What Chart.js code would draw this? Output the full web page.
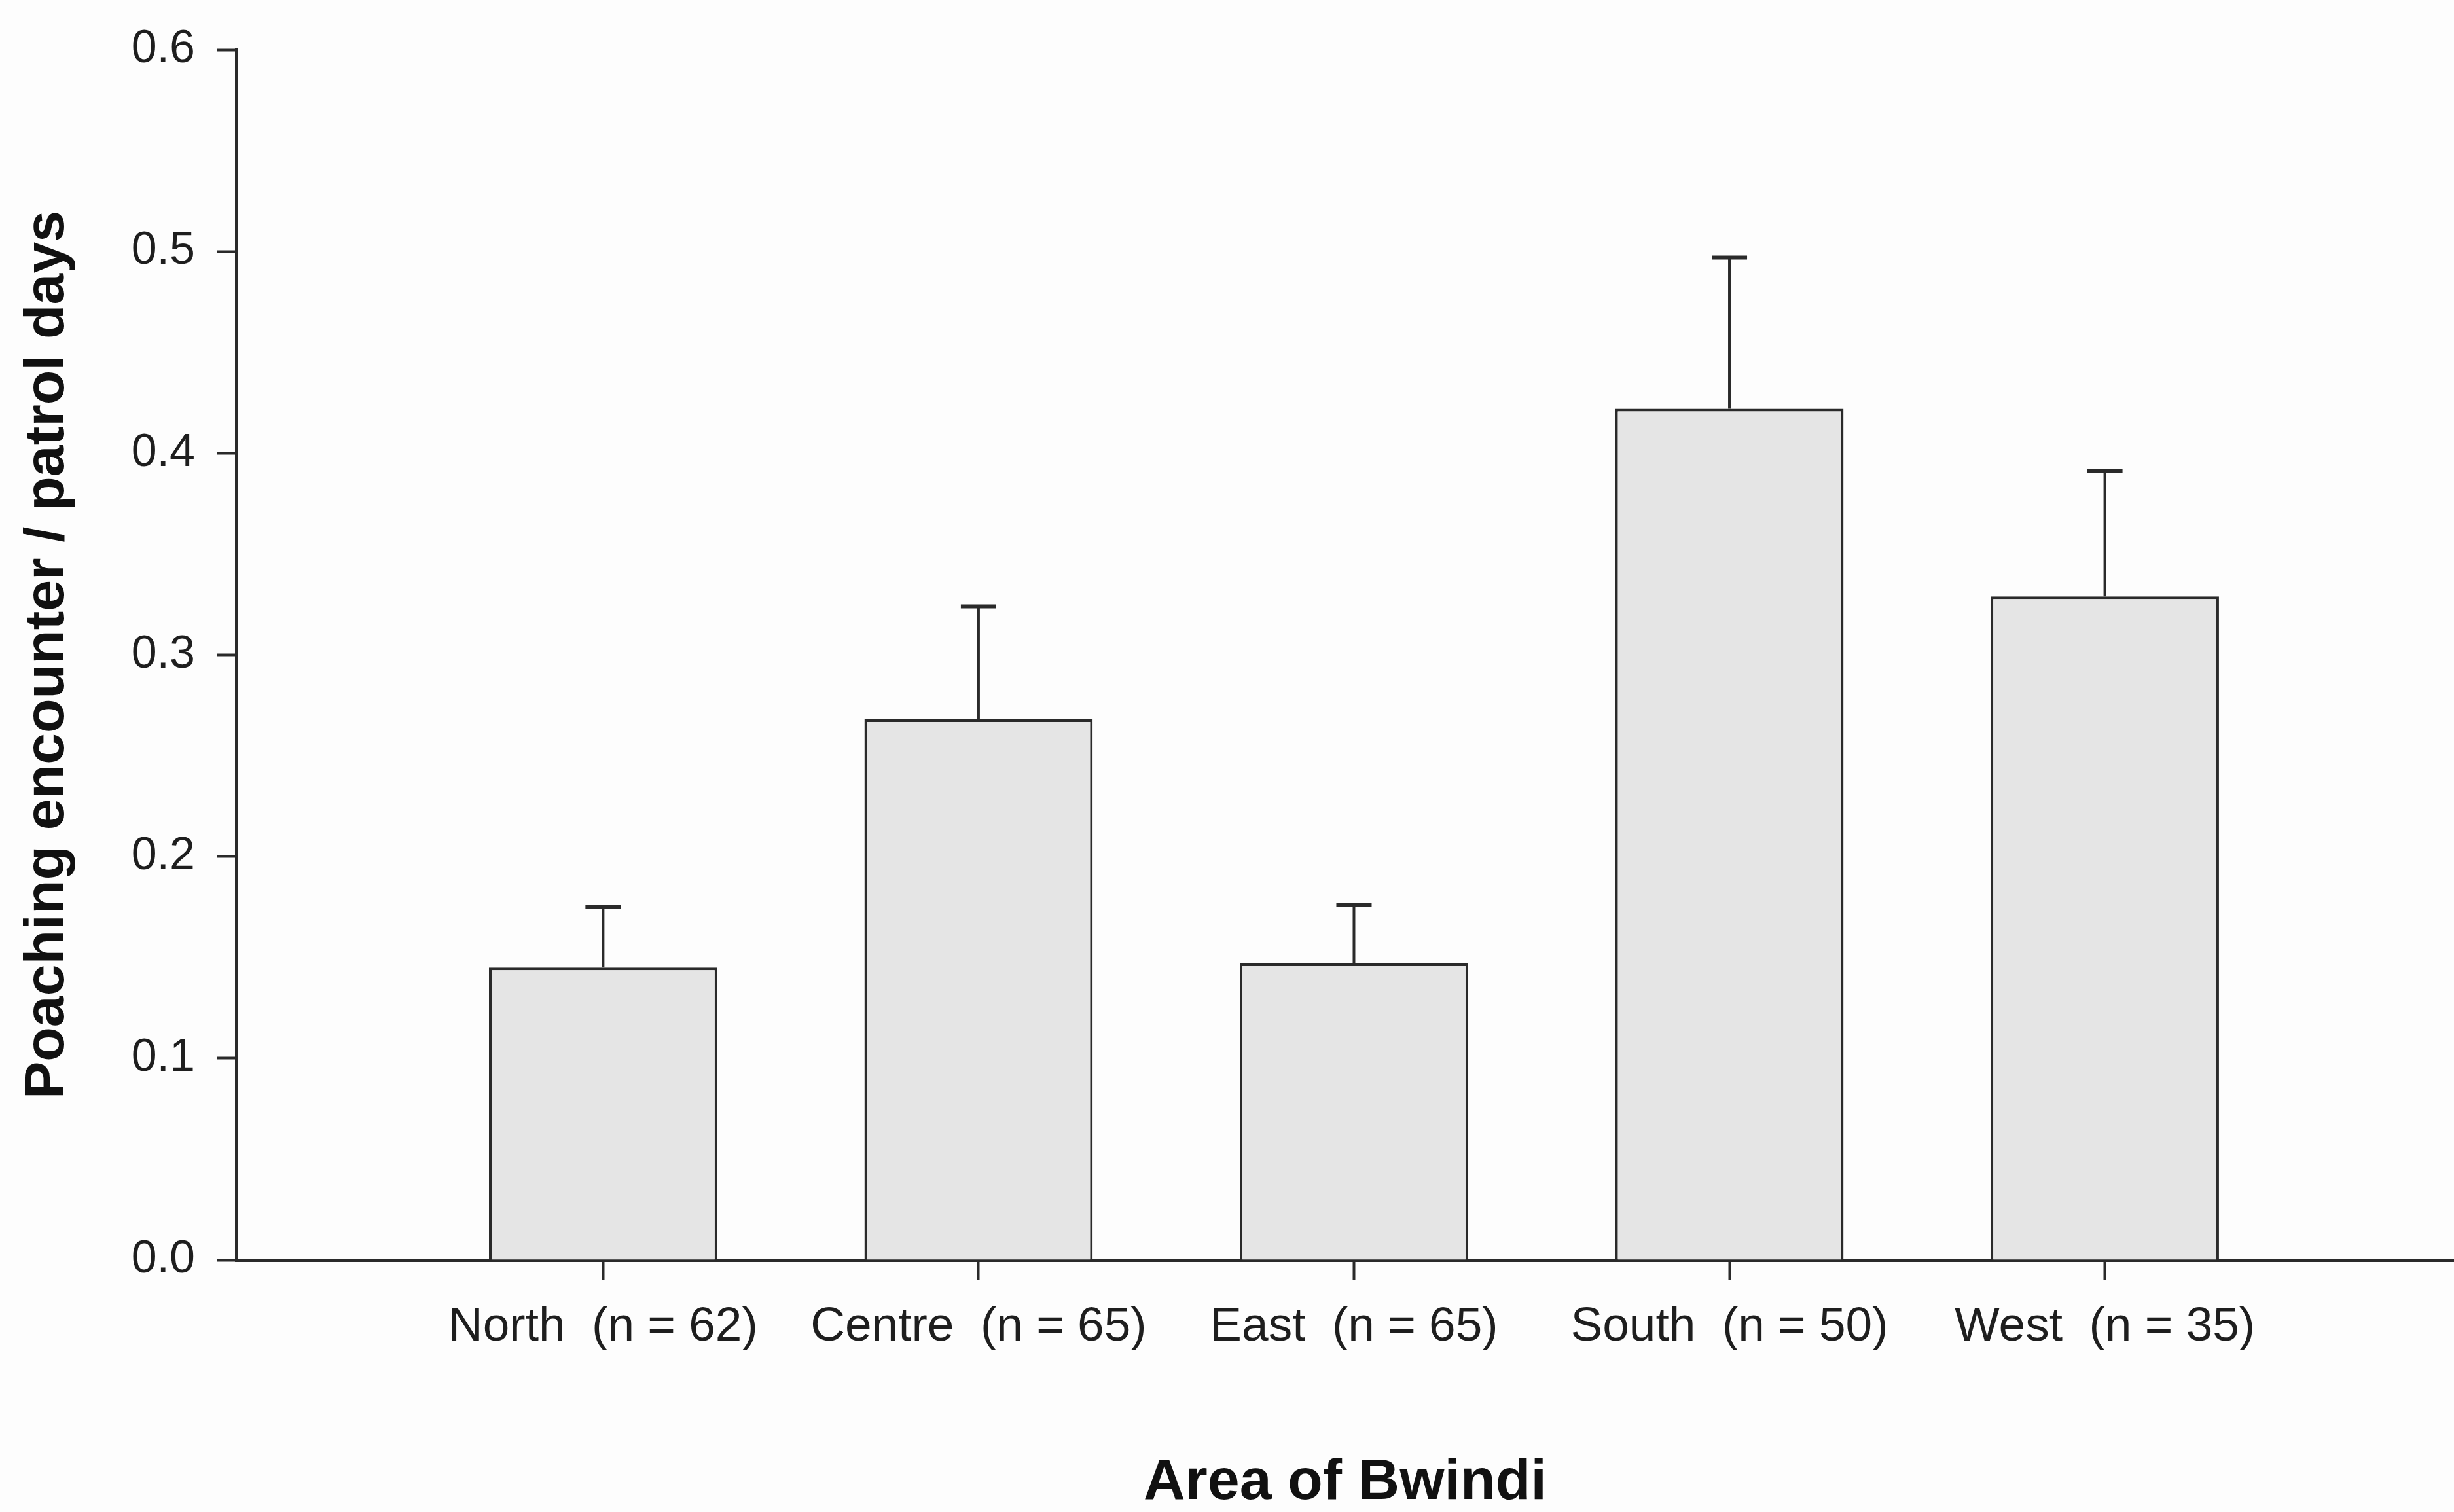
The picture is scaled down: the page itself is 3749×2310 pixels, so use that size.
<!DOCTYPE html>
<html>
<head>
<meta charset="utf-8">
<title>Poaching encounters by area of Bwindi</title>
<script src="https://cdn.jsdelivr.net/npm/chart.js@4.4.1/dist/chart.umd.min.js"></script>
<style>
  html, body { margin: 0; padding: 0; background: #fdfdfd; }
  #wrap { width: 3749px; height: 2310px; position: relative; }
</style>
</head>
<body>
<div id="wrap"><canvas id="chart"></canvas></div>
<script>
const categories = ['North  (n = 62)', 'Centre  (n = 65)', 'East  (n = 65)', 'South  (n = 50)', 'West  (n = 35)']
const encounterRates = [0.145, 0.268, 0.147, 0.422, 0.329]
const standardErrors = [0.030, 0.056, 0.029, 0.075, 0.062]
const yTicks = [0, 0.1, 0.2, 0.3, 0.4, 0.5, 0.6]

const ink = '#2a2a2a'

// upper-only error bars with a cap, like the original figure
const errorBars = {
  id: 'errorBars',
  afterDatasetsDraw(chart) {
    const { ctx, scales: { x, y } } = chart
    ctx.save()
    ctx.strokeStyle = ink
    ctx.lineCap = 'butt'
    encounterRates.forEach((value, i) => {
      const px = x.getPixelForValue(i)
      const yBar = y.getPixelForValue(value)
      const yTop = y.getPixelForValue(value + standardErrors[i])
      ctx.lineWidth = 4
      ctx.beginPath()
      ctx.moveTo(px, yBar)
      ctx.lineTo(px, yTop)
      ctx.stroke()
      ctx.lineWidth = 6
      ctx.beginPath()
      ctx.moveTo(px - 27, yTop)
      ctx.lineTo(px + 27, yTop)
      ctx.stroke()
    })
    ctx.restore()
  },
}

const canvas = document.getElementById('chart')
const ctx = canvas.getContext('2d')

new Chart(ctx, {
  type: 'bar',
  data: {
    datasets: [{
      data: encounterRates.map((v, i) => ({ x: i, y: v })),
      backgroundColor: '#e5e5e5',
      borderColor: ink,
      borderWidth: 4,
      borderSkipped: 'bottom',
      categoryPercentage: 1,
      barPercentage: 0.608,
    }],
  },
  options: {
    responsive: true,
    maintainAspectRatio: false,
    animation: false,
    layout: { padding: { top: 67, right: 0, bottom: 0, left: 0 } },
    plugins: {
      legend: { display: false },
      tooltip: { enabled: false },
    },
    scales: {
      x: {
        type: 'linear',
        offset: false,
        min: -0.977,
        max: 4.93,
        afterBuildTicks(scale) {
          scale.ticks = categories.map((_, i) => ({ value: i }))
        },
        afterFit(scale) {
          scale.height = 385
        },
        ticks: {
          color: '#1e1e1e',
          font: { family: 'Liberation Sans', size: 73 },
          padding: 29,
          maxRotation: 0,
          autoSkip: false,
          callback: (value) => categories[value] ?? '',
        },
        grid: {
          display: true,
          offset: false,
          drawOnChartArea: false,
          drawTicks: true,
          tickLength: 30,
          tickWidth: 4,
          tickColor: ink,
        },
        border: { display: true, color: ink, width: 5 },
        title: {
          display: true,
          text: 'Area of Bwindi',
          color: '#111',
          font: { family: 'Liberation Sans', size: 88, weight: 'bold', lineHeight: 1 },
          padding: { top: 0, bottom: 0 },
        },
      },
      y: {
        min: 0,
        max: 0.6,
        afterBuildTicks(scale) {
          scale.ticks = yTicks.map((value) => ({ value }))
        },
        afterFit(scale) {
          scale.width = 361
        },
        ticks: {
          color: '#1e1e1e',
          font: { family: 'Liberation Sans', size: 70 },
          padding: 34,
          callback: (value) => value.toFixed(1),
        },
        grid: {
          display: true,
          drawOnChartArea: false,
          drawTicks: true,
          tickLength: 29,
          tickWidth: 4,
          tickColor: ink,
        },
        border: { display: true, color: ink, width: 5 },
        title: {
          display: true,
          text: 'Poaching encounter / patrol days',
          color: '#111',
          font: { family: 'Liberation Sans', size: 86, weight: 'bold', lineHeight: 1 },
          padding: { top: 30, bottom: 0 },
        },
      },
    },
  },
  plugins: [errorBars],
})
</script>
</body>
</html>
